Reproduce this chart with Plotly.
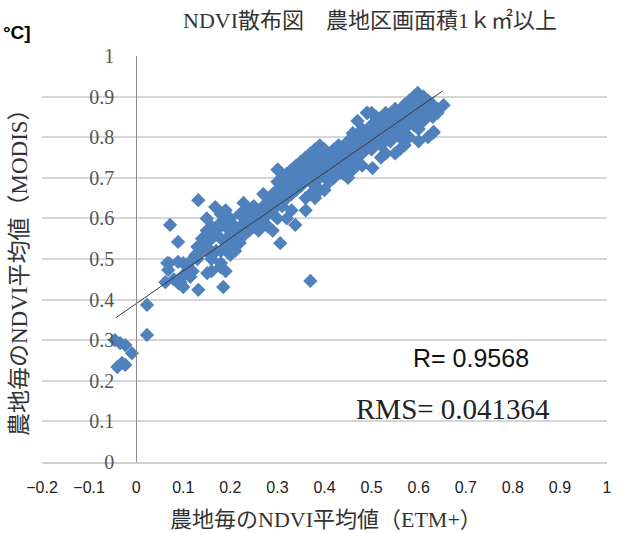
import plotly.graph_objects as go

# ---- data ----
etm_x = [
    -0.040, -0.030, -0.023, -0.045, -0.034, -0.023, -0.009, 0.023, 0.023,
    0.066, 0.068, 0.089, 0.062, 0.094, 0.100, 0.115, 0.132, 0.072, 0.089, 0.126, 0.153,
    0.151, 0.185, 0.179, 0.132, 0.168, 0.228,
    0.16, 0.17, 0.18, 0.17, 0.18, 0.19, 0.19, 0.20, 0.20, 0.21, 0.21, 0.22, 0.22, 0.23, 0.23,
    0.24, 0.24, 0.25, 0.25, 0.16, 0.15, 0.15, 0.14, 0.14, 0.13, 0.13, 0.12, 0.12, 0.11, 0.10,
    0.10, 0.09, 0.08, 0.07, 0.18, 0.19, 0.20, 0.21, 0.16, 0.18, 0.20, 0.22, 0.23, 0.19, 0.20,
    0.16, 0.15, 0.18,
    0.26, 0.26, 0.27, 0.27, 0.28, 0.28, 0.29, 0.29, 0.30, 0.30, 0.30, 0.31, 0.31, 0.31, 0.32,
    0.32, 0.32, 0.33, 0.33, 0.33, 0.34, 0.34, 0.34, 0.35, 0.35, 0.35, 0.26, 0.28, 0.30, 0.306,
    0.338, 0.29, 0.27, 0.30, 0.302, 0.33, 0.32, 0.25, 0.36, 0.36, 0.349,
    0.36, 0.36, 0.37, 0.37, 0.37, 0.38, 0.38, 0.38, 0.39, 0.39, 0.39, 0.39, 0.40, 0.40, 0.40,
    0.41, 0.41, 0.41, 0.42, 0.42, 0.42, 0.43, 0.43, 0.43, 0.44, 0.44, 0.44, 0.45, 0.45, 0.45,
    0.37, 0.38, 0.40, 0.41, 0.434, 0.370, 0.36, 0.38, 0.39,
    0.46, 0.46, 0.46, 0.47, 0.47, 0.47, 0.48, 0.48, 0.48, 0.49, 0.49, 0.491, 0.50, 0.50, 0.50,
    0.51, 0.51, 0.51, 0.52, 0.52, 0.52, 0.53, 0.53, 0.53, 0.54, 0.54, 0.54, 0.55, 0.55, 0.55,
    0.49, 0.502, 0.48, 0.46, 0.52, 0.53, 0.47, 0.50, 0.45,
    0.56, 0.56, 0.56, 0.57, 0.57, 0.57, 0.58, 0.58, 0.58, 0.59, 0.59, 0.59, 0.60, 0.60, 0.598,
    0.61, 0.61, 0.61, 0.62, 0.62, 0.632, 0.63, 0.63, 0.64, 0.64, 0.653, 0.63, 0.60, 0.58, 0.57,
    0.56, 0.55, 0.60, 0.62, 0.59,
]
modis_y = [
    0.234, 0.244, 0.239, 0.300, 0.293, 0.288, 0.268, 0.313, 0.387,
    0.490, 0.473, 0.493, 0.443, 0.443, 0.431, 0.456, 0.424, 0.584, 0.542, 0.510, 0.515,
    0.465, 0.431, 0.480, 0.645, 0.628, 0.638,
    0.50, 0.52, 0.55, 0.57, 0.59, 0.58, 0.54, 0.56, 0.60, 0.58, 0.55, 0.57, 0.61, 0.59, 0.62,
    0.60, 0.57, 0.61, 0.63, 0.55, 0.53, 0.57, 0.52, 0.55, 0.50, 0.53, 0.50, 0.47, 0.48, 0.46,
    0.49, 0.44, 0.45, 0.49, 0.49, 0.47, 0.51, 0.52, 0.47, 0.52, 0.53, 0.54, 0.56, 0.62, 0.59,
    0.58, 0.60, 0.61,
    0.62, 0.59, 0.63, 0.60, 0.64, 0.61, 0.62, 0.66, 0.64, 0.67, 0.69, 0.66, 0.70, 0.63, 0.68,
    0.71, 0.65, 0.69, 0.72, 0.66, 0.70, 0.67, 0.73, 0.71, 0.68, 0.74, 0.57, 0.58, 0.60, 0.539,
    0.584, 0.57, 0.66, 0.72, 0.719, 0.62, 0.60, 0.58, 0.65, 0.70, 0.736,
    0.72, 0.75, 0.69, 0.73, 0.76, 0.71, 0.74, 0.77, 0.70, 0.73, 0.76, 0.78, 0.72, 0.75, 0.77,
    0.74, 0.76, 0.71, 0.73, 0.77, 0.70, 0.75, 0.72, 0.78, 0.74, 0.71, 0.77, 0.73, 0.76, 0.79,
    0.66, 0.68, 0.67, 0.69, 0.712, 0.446, 0.62, 0.65, 0.67,
    0.75, 0.78, 0.81, 0.77, 0.80, 0.74, 0.79, 0.82, 0.76, 0.78, 0.81, 0.860, 0.80, 0.83, 0.77,
    0.79, 0.82, 0.85, 0.81, 0.84, 0.78, 0.83, 0.80, 0.86, 0.82, 0.85, 0.79, 0.84, 0.87, 0.81,
    0.86, 0.724, 0.73, 0.72, 0.75, 0.76, 0.84, 0.86, 0.70,
    0.83, 0.86, 0.80, 0.85, 0.88, 0.82, 0.84, 0.87, 0.89, 0.86, 0.83, 0.89, 0.85, 0.88, 0.909,
    0.87, 0.84, 0.90, 0.86, 0.89, 0.813, 0.85, 0.88, 0.87, 0.86, 0.879, 0.81, 0.82, 0.80, 0.78,
    0.77, 0.76, 0.79, 0.80, 0.90,
]
trend_slope = 0.805
trend_intercept = 0.390
trend_x = [-0.043, 0.651]

x_ticks = [-0.2, -0.1, 0, 0.1, 0.2, 0.3, 0.4, 0.5, 0.6, 0.7, 0.8, 0.9, 1]
x_tick_labels = ["−0.2", "−0.1", "0", "0.1", "0.2", "0.3", "0.4", "0.5", "0.6", "0.7", "0.8", "0.9", "1"]
y_ticks = [0, 0.1, 0.2, 0.3, 0.4, 0.5, 0.6, 0.7, 0.8, 0.9, 1]
y_tick_labels = ["0", "0.1", "0.2", "0.3", "0.4", "0.5", "0.6", "0.7", "0.8", "0.9", "1"]

title_text = "NDVI散布図　農地区画面積1ｋ㎡以上"
x_title = "農地毎のNDVI平均値（ETM+）"
y_title = "農地毎のNDVI平均値（MODIS）"
r_text = "R= 0.9568"
rms_text = "RMS= 0.041364"
corner_text = "°C]"

# ---- layout geometry ----
W, H = 618, 533
L, R, T, B = 42, 11, 56, 71
PW, PH = W - L - R, H - T - B


def px(xp):
    return (xp - L) / PW


def py(yp):
    return (H - B - yp) / PH


SERIF = "Liberation Serif, 'DejaVu Serif', 'Noto Sans CJK JP', serif"
SANS = "'Liberation Sans', Arial, 'Noto Sans CJK JP', sans-serif"

fig = go.Figure()
fig.add_trace(go.Scatter(
    x=etm_x, y=modis_y, mode="markers",
    marker=dict(symbol="diamond", size=11, color="#4F81BD", line=dict(width=0)),
    showlegend=False, hoverinfo="x+y",
))
fig.add_trace(go.Scatter(
    x=trend_x, y=[trend_slope * v + trend_intercept for v in trend_x], mode="lines",
    line=dict(color="#3a3a3a", width=1), showlegend=False, hoverinfo="skip",
))

fig.update_layout(
    width=W, height=H,
    margin=dict(l=L, r=R, t=T, b=B, autoexpand=False),
    paper_bgcolor="white", plot_bgcolor="white",
    xaxis=dict(
        range=[-0.2, 1], tickvals=x_ticks, ticktext=x_tick_labels,
        showgrid=False, zeroline=False, showline=True, linecolor="#d0d0d0", linewidth=1.5,
        ticks="", tickfont=dict(family=SANS, size=16, color="#222222"),
        ticklabelstandoff=10, fixedrange=True,
    ),
    yaxis=dict(
        range=[0, 1], tickvals=y_ticks, ticktext=y_tick_labels,
        anchor="free", position=0.2 / 1.2,
        showgrid=True, gridcolor="#d6d6d6", gridwidth=1.5,
        zeroline=False, showline=True, linecolor="#8c8c8c", linewidth=1,
        ticks="", tickfont=dict(family=SERIF, size=20, color="#555555"),
        ticklabelstandoff=18, fixedrange=True,
    ),
)

annotations = [
    dict(text=title_text, x=px(370), y=py(20), font=dict(family=SERIF, size=22, color="#333333")),
    dict(text=x_title, x=px(326), y=py(519), font=dict(family=SERIF, size=22, color="#333333")),
    dict(text=y_title, x=px(19), y=py(267), textangle=-90, font=dict(family=SERIF, size=23, color="#333333")),
    dict(text=r_text, x=px(471), y=py(358), font=dict(family=SANS, size=25, color="#111111")),
    dict(text=rms_text, x=px(453), y=py(409), font=dict(family=SERIF, size=29, color="#222222")),
    dict(text="<b>" + corner_text + "</b>", x=px(17), y=py(32), font=dict(family=SANS, size=19, color="#000000")),
]
for a in annotations:
    fig.add_annotation(xref="paper", yref="paper", showarrow=False, xanchor="center", yanchor="middle", **a)

fig.write_html(
    "out.html",
    config={"displayModeBar": False},
    post_script="document.body.style.margin='0';document.body.style.overflow='hidden';",
)
